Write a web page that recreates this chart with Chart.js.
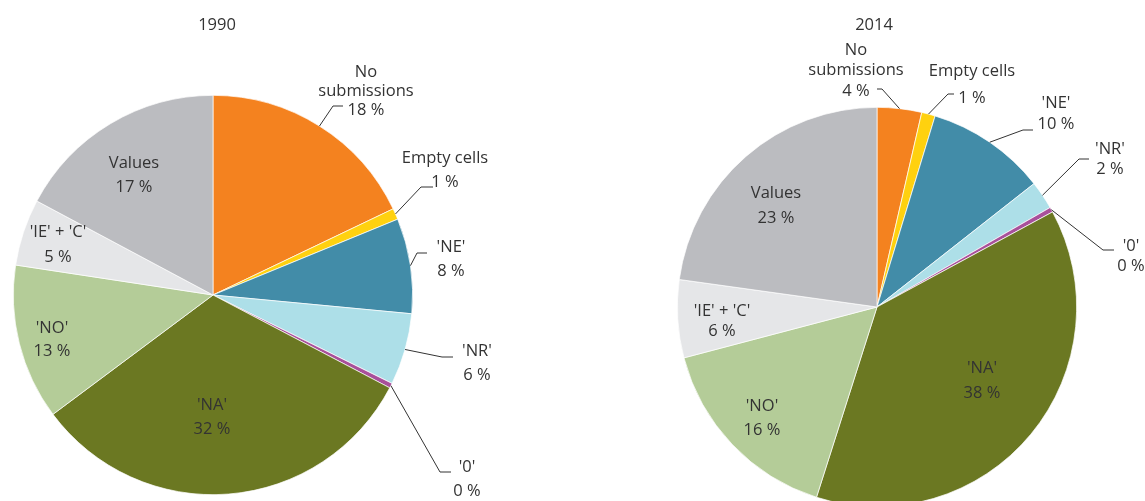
<!DOCTYPE html>
<html>
<head>
<meta charset="utf-8">
<script src="https://cdn.jsdelivr.net/npm/chart.js@4.4.1/dist/chart.umd.min.js"></script>
<style>
    html, body { margin: 0; padding: 0; background: #ffffff; overflow: hidden; }
    body { width: 1145px; height: 501px; position: relative; }
    .box { position: absolute; top: 0; }
    #box1990 { left: 0; width: 560px; height: 501px; }
    #box2014 { left: 640px; width: 505px; height: 520px; }
</style>
</head>
<body>
<div class="box" id="box1990"><canvas id="pie1990"></canvas></div>
<div class="box" id="box2014"><canvas id="pie2014"></canvas></div>
<script>
// Dati
const categories = ['No submissions', 'Empty cells', "'NE'", "'NR'", "'0'", "'NA'", "'NO'", "'IE' + 'C'", 'Values'];
const values1990 = [17.9, 0.9, 7.7, 5.8, 0.4, 32.1, 12.6, 5.4, 17.2];
const values2014 = [3.6, 1.1, 9.7, 2.3, 0.4, 37.8, 16.0, 6.3, 22.8];
const sliceColors = ['#f4821f', '#ffd10f', '#428ca8', '#addfe8', '#a8509b', '#6b7822', '#b4cc98', '#e5e6e8', '#bbbcc0'];

const TEXT_COLOR = '#333333';
const FONT = '16.5px "Open Sans", "DejaVu Sans", sans-serif';

// Posizione etichette (offset in px dal centro della torta)
const layout1990 = [
    { x: 153, y: -223, gap: 19, wrap: true, elbow: [120, -189], end: [130, -189] },
    { x: 232, y: -137, gap: 24, elbow: [208, -108], end: [220, -108] },
    { x: 238, y: -48, gap: 24, elbow: [204, -42], end: [214, -42] },
    { x: 264, y: 56, gap: 24, elbow: [229, 62], end: [240, 62] },
    { x: 254, y: 172, gap: 24, elbow: [227, 177], end: [238, 177] },
    { x: -1, y: 110, gap: 24 },
    { x: -161, y: 33, gap: 23 },
    { x: -155, y: -63, gap: 25 },
    { x: -79, y: -132, gap: 24 }
];
const layout2014 = [
    { x: -21, y: -257, gap: 20.7, wrap: true, elbow: [5, -218], end: [0, -218] },
    { x: 95, y: -236, gap: 27, elbow: [71, -213], end: [77, -213] },
    { x: 179, y: -204, gap: 21, elbow: [146, -177], end: [156, -177] },
    { x: 233, y: -158, gap: 20.7, elbow: [202, -148], end: [212, -148] },
    { x: 254, y: -61, gap: 20.3, elbow: [226, -57], end: [237, -57] },
    { x: 105, y: 61, gap: 25 },
    { x: -115, y: 99, gap: 24 },
    { x: -155, y: 4, gap: 20.3 },
    { x: -101, y: -114, gap: 25 }
];

// Etichette + linee guida
const sliceLabels = {
    id: 'sliceLabels',
    afterDraw(chart, args, opts) {
        const ctx = chart.ctx;
        const meta = chart.getDatasetMeta(0);
        const data = chart.data.datasets[0].data;
        const cx = meta.data[0].x;
        const cy = meta.data[0].y;
        const R = meta.data[0].outerRadius;

        ctx.save();
        ctx.font = FONT;
        ctx.fillStyle = TEXT_COLOR;
        ctx.strokeStyle = '#333333';
        ctx.lineWidth = 1;
        ctx.textAlign = 'center';
        ctx.textBaseline = 'middle';

        ctx.fillText(opts.title, cx + opts.titleDx, opts.titleY);

        meta.data.forEach((arc, i) => {
            const spec = opts.layout[i];
            const name = chart.data.labels[i];
            const lines = spec.wrap ? name.split(' ') : [name];
            lines.push(Math.round(data[i]) + ' %');

            if (spec.elbow) {
                const mid = (arc.startAngle + arc.endAngle) / 2;
                ctx.beginPath();
                ctx.moveTo(cx + Math.cos(mid) * R, cy + Math.sin(mid) * R);
                ctx.lineTo(cx + spec.elbow[0], cy + spec.elbow[1]);
                ctx.lineTo(cx + spec.end[0], cy + spec.end[1]);
                ctx.stroke();
            }
            lines.forEach((t, k) => ctx.fillText(t, cx + spec.x, cy + spec.y + k * spec.gap));
        });
        ctx.restore();
    }
};

function createPie(canvasId, values, title, titleDx, layout, padding) {
    return new Chart(document.getElementById(canvasId), {
        type: 'pie',
        data: {
            labels: categories,
            datasets: [{
                data: values,
                backgroundColor: sliceColors,
                borderColor: '#ffffff',
                borderWidth: 0.7,
                hoverOffset: 0
            }]
        },
        options: {
            responsive: true,
            maintainAspectRatio: false,
            animation: false,
            layout: { padding: padding },
            plugins: {
                legend: { display: false },
                tooltip: { enabled: false },
                sliceLabels: { title: title, titleDx: titleDx, titleY: 25, layout: layout }
            }
        },
        plugins: [sliceLabels]
    });
}

// Avvio
document.fonts.load(FONT).finally(() => {
    createPie('pie1990', values1990, '1990', 4, layout1990, { left: 13, right: 147, top: 95, bottom: 6 });
    createPie('pie2014', values2014, '2014', -3, layout2014, { left: 37, right: 68, top: 107, bottom: 13 });
});
</script>
</body>
</html>
